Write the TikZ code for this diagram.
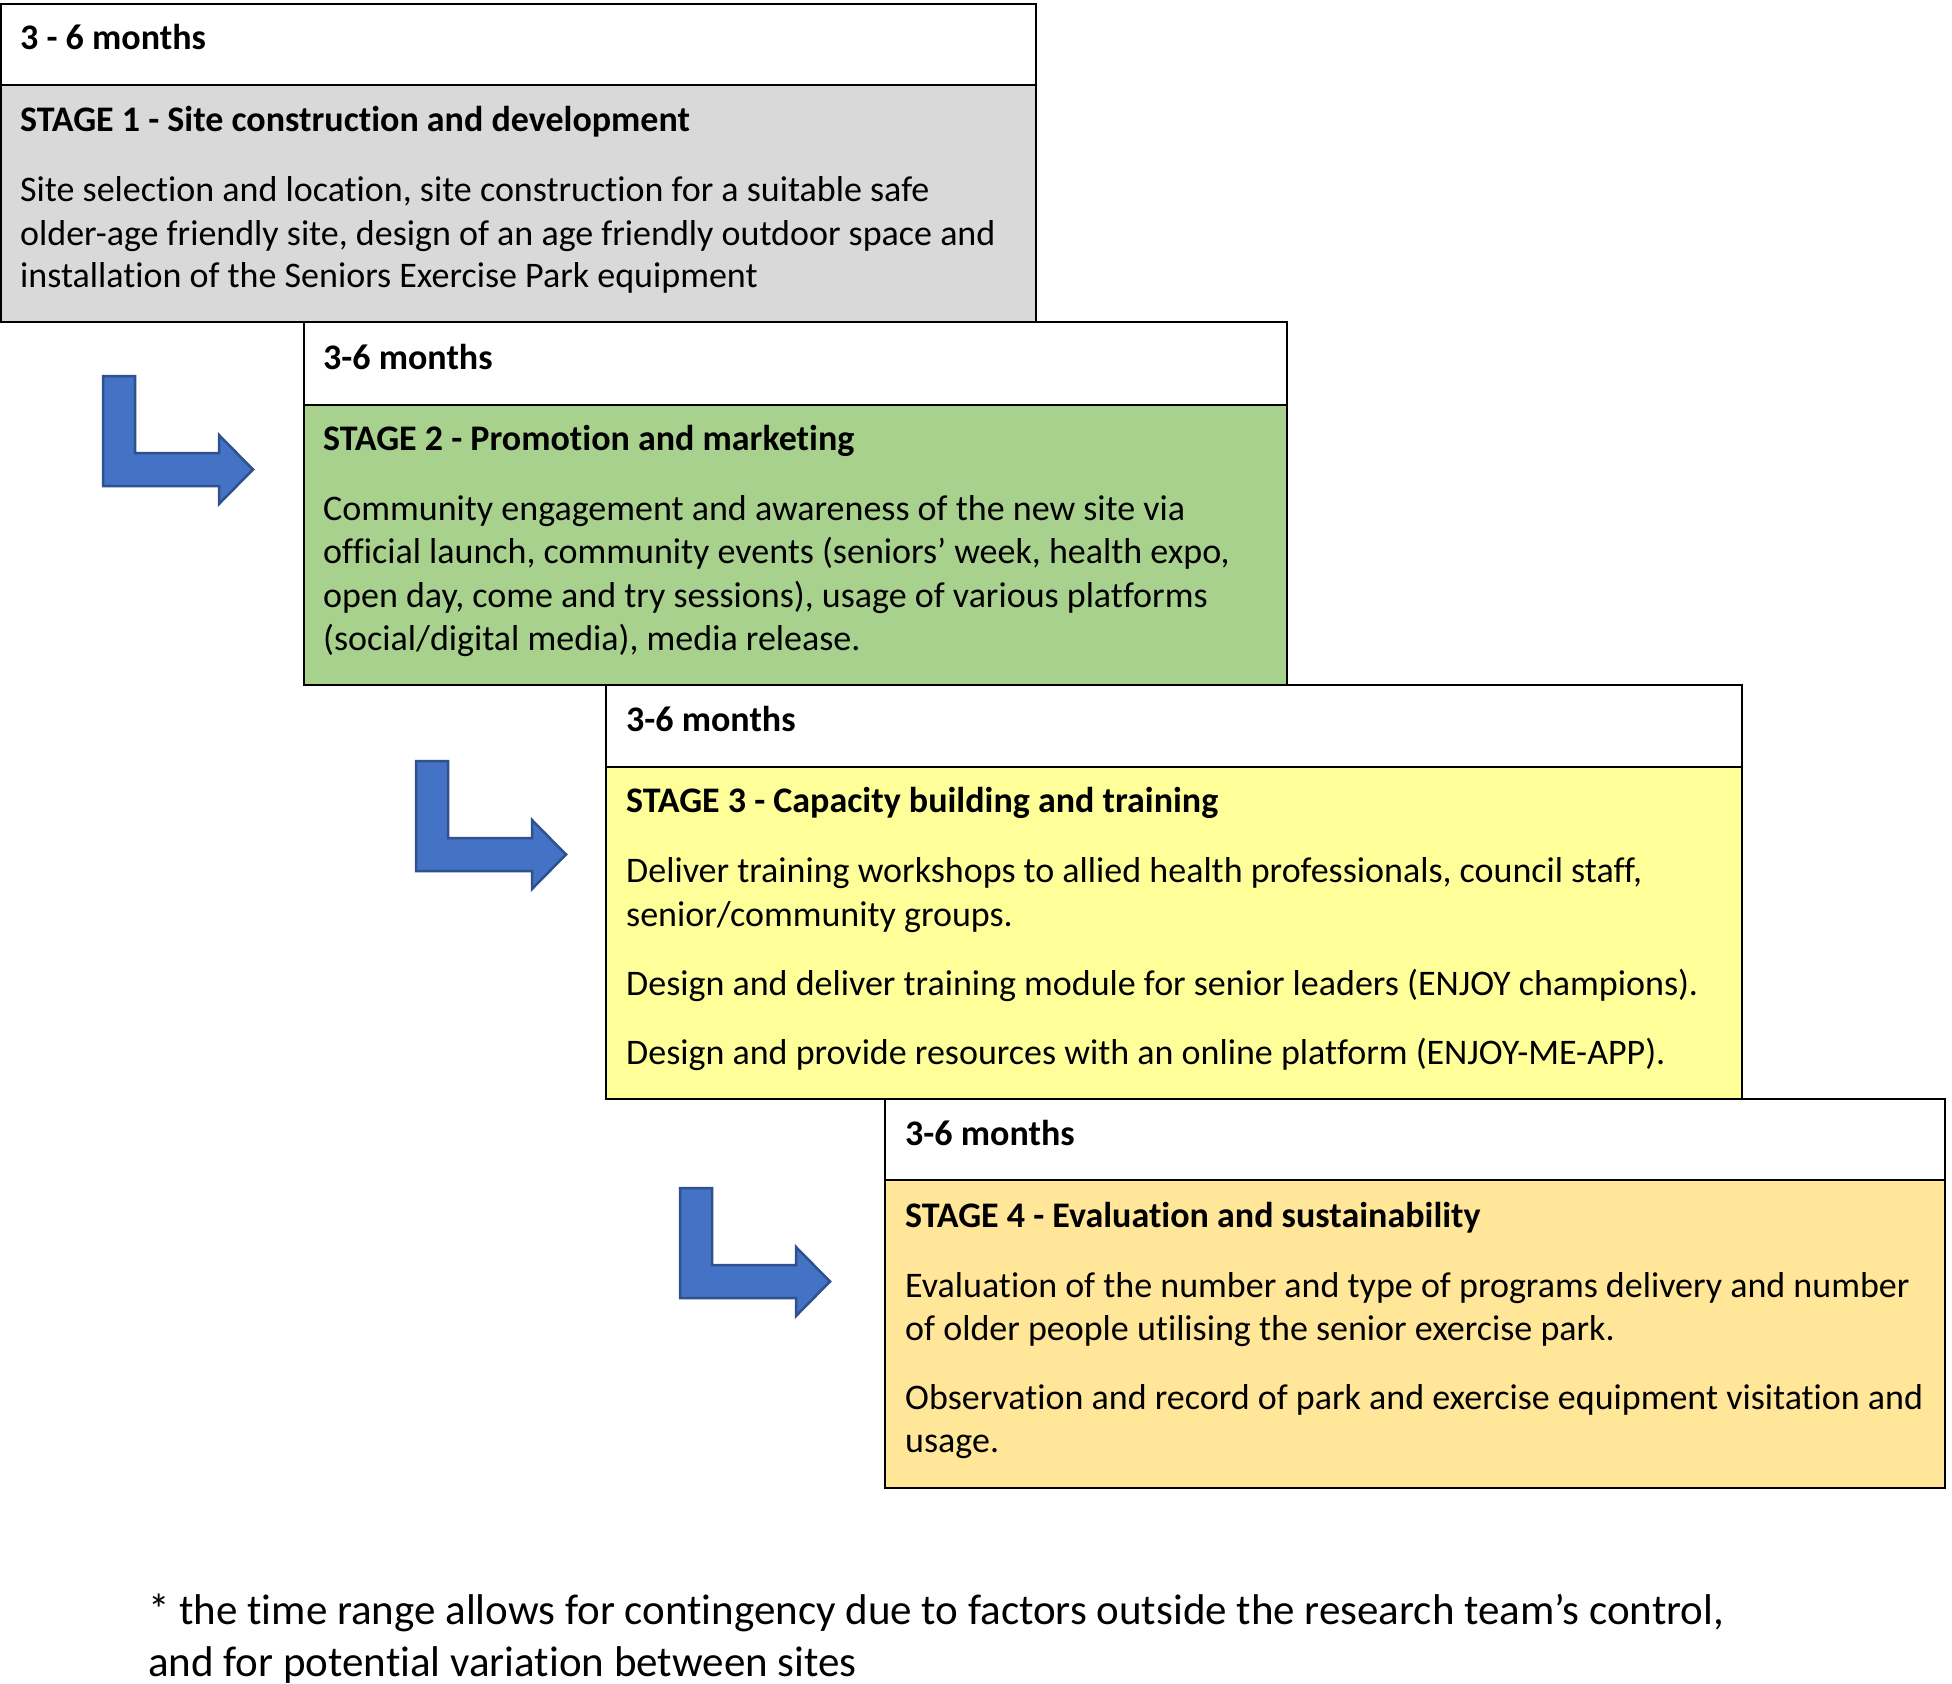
\documentclass[tikz,border=0pt]{standalone}
\usepackage{fontspec}
\setmainfont{Carlito}[Ligatures=NoCommon]
\definecolor{graybg}{HTML}{D9D9D9}
\definecolor{greenbg}{HTML}{A9D18E}
\definecolor{yellowbg}{HTML}{FFFF99}
\definecolor{orangebg}{HTML}{FFE699}
\definecolor{arrowblue}{HTML}{4472C4}
\definecolor{arrowedge}{HTML}{2F528F}
\begin{document}
\begin{tikzpicture}[x=1pt,y=-1pt,
  txt/.style={anchor=mid west, inner sep=0pt, font=\fontsize{36}{42}\selectfont},
  hd/.style={anchor=mid west, inner sep=0pt, font=\fontsize{36}{42}\selectfont\bfseries},
  foot/.style={anchor=mid west, inner sep=0pt, font=\fontsize{43}{50}\selectfont},
  boxline/.style={draw=black, line width=1.8pt},
  barrow/.style={fill=arrowblue, draw=arrowedge, line width=2.5pt, line join=miter}]
\useasboundingbox (0,0) rectangle (1952,1684);
\fill[white] (0,0) rectangle (1952,1684);

% fills
\fill[white] (1,4) rectangle (1036,85);
\fill[graybg] (1,85) rectangle (1036,322);
\fill[white] (304,322) rectangle (1287,405);
\fill[greenbg] (304,405) rectangle (1287,685);
\fill[white] (606,685) rectangle (1742,767);
\fill[yellowbg] (606,767) rectangle (1742,1099);
\fill[white] (885,1099) rectangle (1945,1180);
\fill[orangebg] (885,1180) rectangle (1945,1488);

% borders
\draw[boxline] (1,4) rectangle (1036,322);
\draw[boxline] (1,85) -- (1036,85);
\draw[boxline] (304,322) rectangle (1287,685);
\draw[boxline] (304,405) -- (1287,405);
\draw[boxline] (606,685) rectangle (1742,1099);
\draw[boxline] (606,767) -- (1742,767);
\draw[boxline] (885,1099) rectangle (1945,1488);
\draw[boxline] (885,1180) -- (1945,1180);

% bent arrows
\foreach \ox/\oy in {103/376, 416/761, 680/1188}{
  \draw[barrow] (\ox,\oy) -- ++(32,0) -- ++(0,77) -- ++(84,0) -- ++(0,-18)
     -- ++(34,34.5) -- ++(-34,34.5) -- ++(0,-18) -- ++(-116,0) -- cycle;
}

% Stage 1
\node[hd]  (h1) at (20,47) {3 - 6 months};
\node[hd]  (s1) at (20,129.5) {STAGE 1 - Site construction and development};
\node[txt] (b1a) at (20,199) {Site selection and location, site construction for a suitable safe};
\node[txt] (b1b) at (20,243) {older-age friendly site, design of an age friendly outdoor space and};
\node[txt] (b1c) at (20,285) {installation of the Seniors Exercise Park equipment};

% Stage 2
\node[hd]  (h2) at (323,367) {3-6 months};
\node[hd]  (s2) at (323,448) {STAGE 2 - Promotion and marketing};
\node[txt] (b2a) at (323,518) {Community engagement and awareness of the new site via};
\node[txt] (b2b) at (323,561.5) {official launch, community events (seniors’ week, health expo,};
\node[txt] (b2c) at (323,605) {open day, come and try sessions), usage of various platforms};
\node[txt] (b2d) at (323,648.6) {(social/digital media), media release.};

% Stage 3
\node[hd]  (h3) at (626,729.5) {3-6 months};
\node[hd]  (s3) at (626,810.5) {STAGE 3 - Capacity building and training};
\node[txt] (b3a) at (626,880) {Deliver training workshops to allied health professionals, council staff,};
\node[txt] (b3b) at (626,924) {senior/community groups.};
\node[txt] (b3c) at (626,993.5) {Design and deliver training module for senior leaders (ENJOY champions).};
\node[txt] (b3d) at (626,1062) {Design and provide resources with an online platform (ENJOY-ME-APP).};

% Stage 4
\node[hd]  (h4) at (905,1143) {3-6 months};
\node[hd]  (s4) at (905,1225) {STAGE 4 - Evaluation and sustainability};
\node[txt] (b4a) at (905,1295) {Evaluation of the number and type of programs delivery and number};
\node[txt] (b4b) at (905,1338) {of older people utilising the senior exercise park.};
\node[txt] (b4c) at (905,1407) {Observation and record of park and exercise equipment visitation and};
\node[txt] (b4d) at (905,1450) {usage.};

% footnote
\node[foot] (f1) at (148,1622) {* the time range allows for contingency due to factors outside the research team’s control,};
\node[foot] (f2) at (148,1674) {and for potential variation between sites};
\end{tikzpicture}
\end{document}
